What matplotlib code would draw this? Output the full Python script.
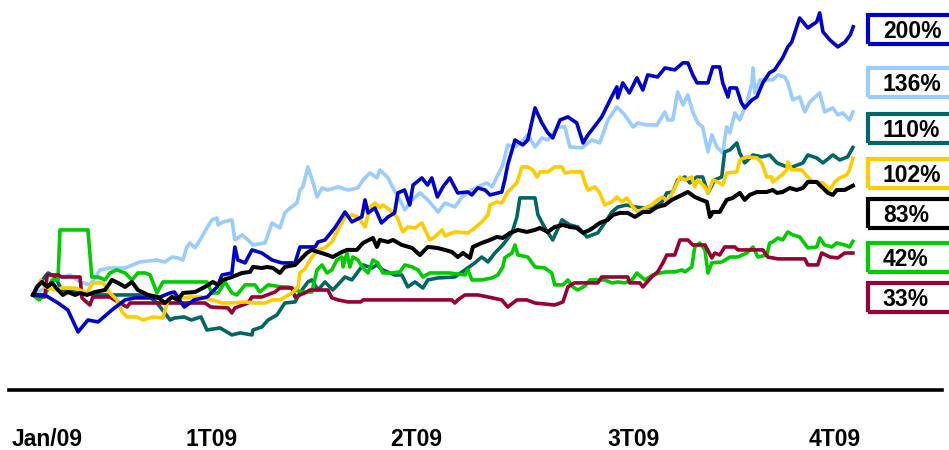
import matplotlib
matplotlib.use('Agg')
import matplotlib.pyplot as plt
from matplotlib.patches import Rectangle

plt.rcParams['font.family'] = ['Liberation Sans', 'DejaVu Sans']

# (trading day, % change since Jan/09)
blue = [(0,0),(3.6,0),(7.6,-6),(10.6,-11.2),(13.7,-27.6),(16.7,-18.7),(19.8,-20.1),(24,-11.2),(28,-3.7),(31,-2.2),(38,-2.2),
        (41.7,1.5),(43,2.2),(46,-9),(49,-3.7),(53,-1.5),(56,6),(57.5,14.9),(60.5,16.4),(61.4,35.8),(62.3,26.1),(64.5,23.9),
        (66.6,33.6),(69.6,31.3),(72.7,26.1),(75.7,23.9),(79.7,23.9),(81.2,35.8),(85.8,35.8),(86.7,39.5),(88.8,41),(91.8,50),
        (94.9,61.9),(97,54.5),(100,58.2),(101,70.9),(101.9,61.2),(104,64.9),(106,53.7),(108,58.2),(110,61.2),(111,76.1),
        (113,78.3),(114.6,67.1),(115.6,82),(118.3,87.3),(120,82),(121.3,87.3),(123,73.1),(124.7,80.6),(126.8,87.3),
        (129.2,76.1),(132.3,76.8),(133.5,74.6),(135.3,79.8),(137.5,78.3),(139,74.6),(142.6,76.8),(143.5,85.8),(144.4,97),
        (146.6,115.6),(149,111.9),(150.5,115.6),(152.7,139.5),(154.8,128.3),(156.6,120.9),(158.1,117.1),(160.3,130.5),
        (162.7,132.8),(165.4,128.3),(167.3,113.4),(168.8,119.4),(170,123.1),(173,132.8),(176,147.7),(177.6,155.2),
        (177.9,147),(179.4,158.2),(181.4,150.7),(183.7,161.9),(185.5,152.9),(187,164.1),(190,162.6),(192.2,169.3),
        (195.2,167.9),(197.7,173.1),(199.2,173.1),(200.7,164.1),(202,158.2),(205.3,158.2),(206.8,170.1),(208.9,170.1),
        (209.8,158.2),(211.4,147.7),(212,154.4),(214,154.4),(215.5,143.2),(216.5,139.5),(218.7,145.5),(220.2,147.7),
        (222,158.2),(224,165.6),(225.6,167.9),(228,176.8),(229.6,185),(230.8,188.7),(233.2,206.6),(235.7,199.2),
        (238.4,203.7),(239.3,210.4),(240.3,196.2),(242.4,190.2),(244.8,185),(247,188.7),(248.6,194),(249.5,200)]

light_blue = [(0,0),(3.6,5.2),(7.6,12.7),(11.3,14.9),(14.3,9.7),(17.3,7.5),(20.4,18.7),(23.4,20.1),(28,20.1),(32.5,24.6),
              (37.7,26.1),(40.1,24.6),(42.3,28.3),(44.1,27.6),(45.6,26.1),(46.8,35.8),(47.7,38.8),(49.3,35.1),(50.8,41),
              (52.9,50),(54.4,56),(56,57.4),(56.3,52.2),(57.8,54.5),(60.5,56),(61.4,41),(63.6,44.8),(65.4,41),(66.9,37.3),
              (70.6,38.8),(72.7,53.7),(75.1,50),(76.6,61.2),(78.2,64.9),(80.3,68.6),(81.2,78.3),(82.1,80.6),(83.6,95.5),
              (85.2,83.6),(86.4,73.1),(87.9,79.8),(89.7,78.3),(92.8,80.6),(95.8,78.3),(98.8,79.8),(100.4,85.8),(102.5,91),
              (104.6,87.3),(105.5,93.3),(108,87.3),(109.5,79.8),(111.6,70.9),(113.1,63.4),(115.3,70.9),(117.7,76.1),
              (120.1,70.9),(123.2,61.9),(125.3,68.6),(128.3,65.6),(130.5,73.1),(133.5,78.3),(135.3,80.6),(138,83.6),
              (139.6,80.6),(141.4,89.5),(142.9,97),(144.4,111.9),(146.6,110.4),(148.7,114.1),(150.5,119.4),(152.7,110.4),
              (154.8,117.1),(156.6,115.6),(159.7,125.3),(161.8,125.3),(163.3,110.4),(167,109.7),(168.8,113.4),(170,115.6),
              (172.4,113.4),(174.9,130.5),(177.6,140.2),(180,134.3),(182.5,125.3),(184,128.3),(186.7,126.8),(189.8,126.8),
              (192.2,136.5),(193.1,130.5),(194.6,130.5),(196.1,151.4),(197.7,141.7),(199.2,149.2),(200.7,136.5),
              (202.2,128.3),(203.7,125.3),(205.3,106.7),(206.5,119.4),(208,110.4),(209.8,105.9),(211,125.3),(212,120.9),
              (213.5,135.8),(215,130.5),(217.1,143.2),(218.7,158.2),(219,169.3),(219.6,150.7),(221.1,160.4),(225,160.4),
              (226.6,164.1),(228.7,162.6),(229.6,158.2),(231.1,145.5),(233.2,147.7),(234.8,136.5),(236.3,144),
              (239.3,150.7),(240.8,136.5),(243.3,139.5),(244.8,134.3),(246.3,135.8),(248.4,130.5),(249.4,136.5)]

teal = [(0,0),(2.1,9),(4.6,16.4),(6.7,13.4),(8.8,3.7),(14.3,1.5),(20.4,0),(32.5,0),(35.6,-1.5),(37.7,-6),(40.1,-13.4),
        (41.7,-18.7),(43,-17.2),(46,-16.4),(48.1,-18.7),(51.1,-16.4),(52.9,-26.1),(56.9,-24.6),(60.5,-29.8),(63,-28.3),
        (66.6,-29.8),(66.9,-26.1),(69.6,-23.9),(71.5,-18.7),(74.2,-14.9),(76.6,-6),(79.7,-5.2),(81.2,1.5),(83.6,9.7),
        (84.8,11.2),(86.7,3.7),(88.8,9.7),(91.2,3.7),(94.9,13.4),(97,11.2),(100.4,22.4),(103.1,20.1),(104.6,22.4),
        (106.4,18.7),(110.1,14.9),(112.2,14.9),(114,6),(116.2,9.7),(118.6,5.2),(120.1,11.2),(123.2,12.7),(128.3,13.4),
        (131.4,18.7),(134.4,23.9),(136.5,28.3),(138.4,24.6),(140.5,31.3),(142.9,37.3),(145.7,46.3),(147.2,58.2),
        (148.1,72.4),(152.7,72.4),(153.6,59.7),(155.7,50),(158.1,41),(160.9,56),(163.3,52.2),(165.7,50.7),(168.5,43.3),
        (171.8,46.3),(173.9,53.7),(176.1,61.9),(177.9,65.6),(180.6,67.1),(183.1,65.6),(186.1,64.9),(189.1,65.6),
        (191.3,69.4),(192.8,76.1),(194.6,76.8),(196.1,85.8),(198.3,88),(199.8,83.6),(201.9,88),(203.7,88),(205.3,76.1),
        (207.4,85.8),(209.5,88),(210.4,106.7),(212,108.2),(214.1,113.4),(215,105.9),(216.5,98.5),(219,104.4),
        (221.7,103),(224.1,104.4),(226.3,98.5),(229.3,95.5),(231.1,95.5),(234.2,98.5),(235.7,104.4),(238.4,102.2),
        (240.3,98.5),(243.3,104.4),(245.4,100.7),(247.8,103),(249.4,110)]

yellow = [(0,0),(2.4,11.2),(3.6,6),(6.7,3.7),(8.8,5.2),(12.8,5.2),(16.4,1.5),(18.2,9),(21.3,9),(23.4,1.5),(25.5,-3.7),
          (27.1,-12.7),(28.6,-16.4),(31.6,-16.4),(33.5,-18.7),(36.5,-16.4),(39.5,-17.2),(41,-3.7),(43.2,1.5),(45.3,-2.2),
          (48.4,-1.5),(51.4,-1.5),(54.4,-3.7),(57.5,-6),(60.5,-6),(64.5,-5.2),(67.5,-6),(70.6,-6),(72.7,-3.7),(75.1,-3.7),
          (78.8,1.5),(80.6,6),(81.2,16.4),(82.7,19.4),(84.8,28.3),(86.7,33.6),(88.8,35.1),(90.9,39.5),(92.8,48.5),
          (94.9,58.2),(97,59.7),(98.8,58.2),(101,50.7),(102.5,65.6),(104,68.6),(105.5,64.9),(106.4,67.1),(108.6,63.4),
          (110.7,58.2),(112.5,47),(114,50.7),(116.2,50),(118.3,53.7),(120.7,41),(122.2,43.3),(124.4,48.5),(125.3,44),
          (128.3,47),(132.3,46.3),(134.4,50),(136.5,54.5),(138.4,59.7),(139,67.1),(141.1,69.4),(142.6,68.6),(144.4,76.8),
          (147.2,83.6),(148.7,95.5),(150.5,95.5),(152,93.3),(153.3,88),(154.2,91.8),(156.6,91.8),(158.7,95.5),
          (160.9,95.5),(161.8,91),(163.9,91.8),(166.9,91.8),(167.9,83.6),(168.8,78.3),(170.9,80.6),(172.4,76.1),
          (173.9,67.1),(176.1,69.4),(177.6,73.1),(179.1,69.4),(180.6,72.4),(182.5,65.6),(184,61.9),(186.1,64.9),
          (188.2,67.1),(190,70.9),(191.6,73.1),(193.1,69.4),(195.2,79.8),(196.8,88),(198.3,85.8),(200.4,88),(201.3,80.6),
          (202.2,85.8),(204.4,80.6),(205.3,76.1),(206.8,85.8),(208.3,84.3),(209.8,82.1),(211,91),(214.1,91.8),(215,100.7),
          (217.1,103),(220.2,102.2),(221.7,98.5),(223.2,88),(224.7,88),(225,84.3),(227.8,89.5),(229.3,93.3),(229.6,99.2),
          (230.8,93.3),(233.8,93.3),(235.7,88),(237.2,84.3),(240.3,83.6),(242.4,78.3),(243.9,84.3),(245.4,87.3),
          (247.5,89.5),(248.4,93.3),(249.4,102)]

black = [(0,0),(1.2,6),(2.7,9.7),(4.3,6),(5.8,9),(7.6,3.7),(9.1,0),(10.6,2.2),(12.8,0),(14.3,1.5),(16.4,0),(18.9,2.2),
         (21.9,3.7),(24,11.2),(25.8,9),(28,6),(30.1,9.7),(31.9,3.7),(35,0),(38,-1.5),(40.1,-6),(42.3,-1.5),(44.1,-3.7),
         (45.6,1.5),(49.3,2.2),(52.3,6),(54.7,9.7),(56.3,7.5),(57.8,11.2),(60.5,13.4),(63.6,16.4),(66,17.2),(66.9,20.9),
         (69.6,20.1),(71.2,20.9),(73,20.1),(75.1,16.4),(76.6,20.9),(79.7,22.4),(81.2,26.1),(83.3,31.3),(84.8,33.6),
         (86.7,32.1),(89.7,29.8),(91.2,28.3),(94,32.1),(95.5,33.6),(98.5,33.6),(100.4,38.8),(103.4,42.5),(104.6,35.8),
         (105.5,41),(108,39.5),(109.5,41),(112.2,37.3),(115.3,35.1),(117.7,29.8),(120.1,35.8),(122.9,35.1),(125.3,33.6),
         (127.4,32.1),(129.2,28.3),(130.8,31.3),(132.9,27.6),(133.8,35.8),(136.5,38.8),(139,41),(141.1,43.3),
         (142.9,42.5),(145.1,46.3),(147.5,48.5),(150.2,47),(152.7,48.5),(154.2,50),(156.6,47),(158.7,50.7),(161.2,52.2),
         (163.3,50.7),(165.4,50),(167.3,46.3),(169.4,48.5),(172.4,53.7),(174.9,56),(176.4,59.7),(178.5,61.2),
         (180.9,61.2),(183.1,58.2),(185.5,61.9),(187.6,61.9),(189.8,65.6),(192.2,67.1),(194.3,70.9),(197.4,74.6),
         (199.2,76.8),(201.3,73.1),(203.4,70.9),(205,69.4),(205.9,58.2),(206.8,61.9),(208.9,61.9),(211,70.9),
         (212.9,72.4),(215,76.1),(216.5,70.9),(218,74.6),(220.2,76.8),(223.2,76.8),(225,78.3),(226.3,76.1),(228,76.8),
         (230.2,79.8),(232.3,78.3),(234.2,79.8),(235.7,84.3),(238.4,84.3),(239.9,80.6),(241.8,76.1),(243.3,74.6),
         (244.5,78.3),(246.9,78.3),(249.4,81.5)]

green = [(0,0),(1.8,-3.7),(3.6,0),(5.8,11.2),(7.6,11.2),(8.2,48.5),(16.7,48.5),(17.9,13.4),(19.8,13.4),(21.9,11.2),
         (23.4,16.4),(25.5,18.7),(28,16.4),(30.1,11.2),(31.9,16.4),(34.1,16.4),(35.6,15),(37.7,1.5),(39.5,9.7),
         (52.9,9.7),(54.4,1.5),(56.3,1.5),(58.4,9.7),(60.5,1.5),(62,0),(64.5,7.5),(67.5,7.5),(69,2.2),(71.5,7.5),
         (75.7,6),(77.5,6),(79.7,3.7),(81.8,2.2),(84.8,2.2),(86.4,18.7),(87.9,22.4),(89.4,16.4),(90.9,18.7),(92.4,26.1),
         (94,28.3),(94.3,20.9),(95.5,31.3),(96.4,20.9),(97.3,28.3),(98.8,26.1),(100.4,20.1),(101.9,16.4),(103.4,26.1),
         (104.9,23.9),(106.4,16.4),(109.2,16.4),(111.6,17.2),(113.1,22.4),(115.3,20.9),(117.1,18.7),(118.6,13.4),
         (120.7,16.4),(126.8,16.4),(131.4,14.9),(132.3,18.7),(133.5,11.2),(136.5,11.2),(139.6,12.7),(141.4,14.9),
         (142.9,20.9),(143.5,27.6),(145.7,31.3),(146.6,37.3),(147.5,29.8),(150.5,28.3),(152.7,20.9),(155.7,20.1),
         (157.8,16.4),(158.7,7.5),(161.2,7.5),(162.7,11.2),(164.2,6),(165.7,3.7),(167.9,6.7),(169.4,11.2),(173.9,11.2),
         (176.1,9),(177.9,9.7),(180,9),(182.2,11.2),(183.7,16.4),(186.1,11.2),(188.5,14.9),(190.7,16.4),(192.8,17.2),
         (195.2,17.2),(197.4,18.7),(198.3,17.2),(200.4,20.9),(201.3,35.8),(202.8,38.8),(204.4,33.6),(205.3,16.4),
         (206.5,23.9),(209.5,24.6),(212,28.3),(214.4,28.3),(217.1,31.3),(219,35.8),(220.5,28.3),(223.2,29.8),
         (224.1,38.8),(225,39.5),(226.6,42.5),(228,41),(229.6,47),(231.1,44.8),(233.2,43.3),(235.7,35.1),(238.4,35.8),
         (239.3,42.5),(240.8,37.3),(243,35.8),(244.5,38.8),(246.9,37.3),(248.4,35.8),(249.4,40)]

maroon = [(0,0),(3.6,-1.5),(4.3,14.9),(7.6,14.9),(8.8,13.4),(14.3,13.4),(14.9,-2.2),(17.3,-7.5),(18.2,-1.5),(23.4,-1.5),
          (25.8,-5.2),(28.6,-9),(29.5,-6),(52.3,-6),(54.1,-9),(59.3,-9.7),(60.5,-13.4),(61.4,-9.7),(65.4,-6),(66.6,-1.5),
          (69.6,-1.5),(71.2,0),(73.6,2.2),(75.1,5.2),(78.8,5.2),(79.7,-1.5),(82.7,1.5),(84.2,3.7),(89.7,3.7),(90.9,-2.2),
          (92.8,-3.7),(95.8,-5.2),(99.7,-5.2),(100.4,-3.7),(127.4,-3.7),(128.3,-6),(129.2,-3.7),(131.4,0),(135.3,0),
          (138.4,-1.5),(142.6,-3.7),(144.4,-9),(147.2,-3.7),(150.2,-3.7),(152.7,-6),(158.7,-7.5),(161.2,-5.2),(162.7,6),
          (164.8,9),(171.8,9),(173,13.4),(180.9,13.4),(181.5,9),(184.6,9),(185.5,6),(188.2,13.4),(190,17.2),(191.6,23.9),
          (192.8,29.8),(195.2,29.8),(196.8,41),(199.2,41),(200.7,37.3),(204.4,37.3),(206.5,27.6),(207.4,31.3),
          (208.9,29.8),(210.4,35.8),(213.5,35.8),(214.4,33.6),(222,33.6),(223.5,28.3),(226.6,26.9),(234.8,26.9),
          (235.7,22.4),(238.7,22.4),(239.9,31.3),(242.4,28.3),(244.8,27.6),(246.9,31.3),(249.4,31.3)]

# draw order matters (later ones on top)
series = [light_blue, teal, green, maroon, yellow, blue, black]
colors = ['#99CCFF', '#006666', '#00CC00', '#990033', '#FFCC00', '#0000CC', '#000000']
widths = [2.6, 2.6, 2.6, 2.6, 2.6, 2.6, 2.9]

end_labels = ['200%', '136%', '110%', '102%', '83%', '42%', '33%']
end_colors = ['#0000CC', '#99CCFF', '#006666', '#FFCC00', '#000000', '#00CC00', '#990033']
label_y = [198.1, 158.2, 123.9, 90.3, 60.4, 28.0, -1.9]

tick_pos = [4.3, 54.4, 116.5, 182.8, 243.9]
tick_labels = ['Jan/09', '1T09', '2T09', '3T09', '4T09']

fig = plt.figure(figsize=(9.49, 4.5), dpi=100)
ax = fig.add_axes([0.0095, 0.1333, 0.9831, 0.8667])

for s, c, w in zip(series, colors, widths):
    d = [p[0] for p in s]
    v = [p[1] for p in s]
    ax.plot(d, v, color=c, lw=w)

# boxed end labels
for txt, c, y in zip(end_labels, end_colors, label_y):
    ax.add_patch(Rectangle((254, y - 10.8), 40, 21.6, fill=False, edgecolor=c, lw=3, clip_on=False))
    ax.text(258.5, y - 1.5, txt, fontsize=16.5, fontweight='bold', va='center', ha='left', color='black')

ax.set_xlim(-7.3, 276.5)
ax.set_ylim(-70.9, 220)
for sp in ['top', 'right', 'left']:
    ax.spines[sp].set_visible(False)
ax.spines['bottom'].set_linewidth(2.6)
ax.set_yticks([])
ax.set_xticks(tick_pos)
ax.set_xticklabels(tick_labels, fontsize=16.5, fontweight='bold')
ax.tick_params(axis='x', length=0, pad=27)

fig.savefig('out.png', dpi=100)
